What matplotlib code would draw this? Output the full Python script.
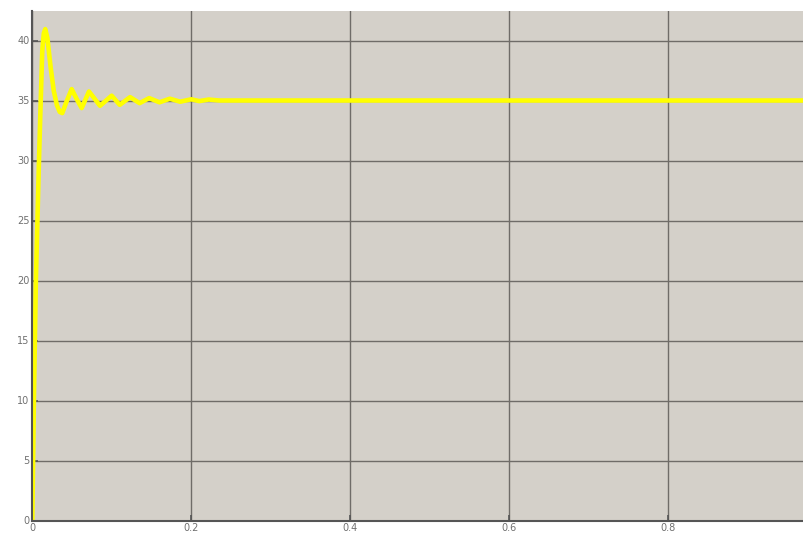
import matplotlib
matplotlib.use("Agg")
import matplotlib.pyplot as plt

# Values (time in s, signal value)
t_vals = [0.0, 0.002, 0.0045, 0.0084, 0.0106, 0.0126, 0.0145, 0.0163, 0.019, 0.023,
          0.027, 0.031, 0.0345, 0.0377, 0.043, 0.0495, 0.056, 0.0621, 0.0713,
          0.0852, 0.0998, 0.110, 0.123, 0.135, 0.147, 0.160, 0.173, 0.186,
          0.200, 0.210, 0.222, 0.235, 0.25, 0.40, 0.60, 0.80, 1.0]
y_vals = [0.0, 10.0, 20.0, 30.0, 35.0, 39.2, 40.6, 40.95, 40.2, 37.8,
          35.8, 34.6, 34.05, 33.95, 34.9, 35.95, 35.1, 34.37, 35.75,
          34.56, 35.4, 34.64, 35.28, 34.78, 35.2, 34.85, 35.15, 34.9,
          35.1, 34.95, 35.08, 35.0, 35.0, 35.0, 35.0, 35.0, 35.0]

x_ticks = [0, 0.2, 0.4, 0.6, 0.8]
x_tick_labels = ["0", "0.2", "0.4", "0.6", "0.8"]
y_ticks = [0, 5, 10, 15, 20, 25, 30, 35, 40]
y_tick_labels = ["0", "5", "10", "15", "20", "25", "30", "35", "40"]

fig = plt.figure(figsize=(8.04, 5.34), dpi=100)
fig.patch.set_facecolor("white")
ax = fig.add_axes([32.3 / 804, 13.5 / 534, 795 / 804, 510 / 534])
ax.set_facecolor("#d4d0c9")

ax.plot(t_vals, y_vals, color="#ffff00", linewidth=3.3, solid_joinstyle="round")

ax.set_xlim(0, 1.0)
ax.set_ylim(0, 42.5)
ax.set_xticks(x_ticks)
ax.set_xticklabels(x_tick_labels)
ax.set_yticks(y_ticks)
ax.set_yticklabels(y_tick_labels)

ax.grid(True, color="#6f6c68", linewidth=1.0, linestyle="-")
ax.set_axisbelow(True)
ax.tick_params(direction="in", length=4, width=1.2, colors="#555555",
               labelsize=7, labelcolor="#707070", pad=2)
for side in ["left", "bottom"]:
    ax.spines[side].set_color("#555555")
    ax.spines[side].set_linewidth(1.5)
for side in ["top", "right"]:
    ax.spines[side].set_visible(False)

fig.savefig("out.png", dpi=100)
